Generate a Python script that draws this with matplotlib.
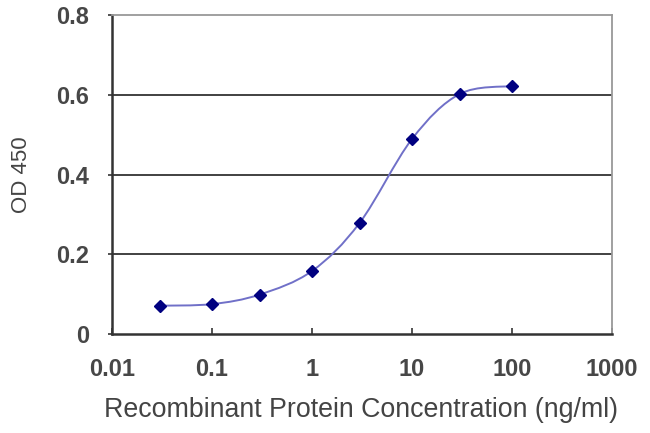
import numpy as np
import matplotlib
matplotlib.use("Agg")
import matplotlib.pyplot as plt
from matplotlib.path import Path
from matplotlib.patches import PathPatch

plt.rcParams['font.family'] = ['Liberation Sans', 'DejaVu Sans']

# data
conc = [0.03, 0.1, 0.3, 1, 3, 10, 30, 100]
od450 = [0.071, 0.075, 0.099, 0.158, 0.279, 0.489, 0.602, 0.622]
xticks = [0.01, 0.1, 1, 10, 100, 1000]
xticklabels = ['0.01', '0.1', '1', '10', '100', '1000']
yticks = [0, 0.2, 0.4, 0.6, 0.8]
yticklabels = ['0', '0.2', '0.4', '0.6', '0.8']


def smooth_path(xs, ys, t=1/6):
    # Excel-style smoothed line: cubic bezier segments, control points in log-x space
    lx = np.log10(xs)
    ys = np.asarray(ys, dtype=float)
    n = len(lx)
    verts = [(xs[0], ys[0])]
    codes = [Path.MOVETO]
    for i in range(n - 1):
        p0 = (lx[max(i - 1, 0)], ys[max(i - 1, 0)])
        p1 = (lx[i], ys[i])
        p2 = (lx[i + 1], ys[i + 1])
        p3 = (lx[min(i + 2, n - 1)], ys[min(i + 2, n - 1)])
        c1 = (p1[0] + (p2[0] - p0[0]) * t, p1[1] + (p2[1] - p0[1]) * t)
        c2 = (p2[0] - (p3[0] - p1[0]) * t, p2[1] - (p3[1] - p1[1]) * t)
        for c in (c1, c2, p2):
            verts.append((10 ** c[0], c[1]))
            codes.append(Path.CURVE4)
    return Path(verts, codes)


fig = plt.figure(figsize=(6.5, 4.33), dpi=100)
ax = fig.add_axes([0.1723, 0.2286, 0.7692, 0.7367])
ax.set_xscale('log')
ax.set_xlim(0.01, 1000)
ax.set_ylim(0, 0.8)

for yv in yticks[1:-1]:
    ax.axhline(yv, color='#333333', lw=1.3, zorder=1)

ax.add_patch(PathPatch(smooth_path(conc, od450), facecolor='none',
                       edgecolor='#7070c8', lw=1.4, zorder=2))
ax.plot(conc, od450, ls='none', marker='D', ms=6.5, color='#000080', zorder=3)

ax.set_xticks(xticks)
ax.set_xticklabels(xticklabels)
ax.set_xticks([], minor=True)
ax.set_yticks(yticks)
ax.set_yticklabels(yticklabels)

ax.tick_params(axis='x', direction='in', length=4, width=1.2, color='#333333',
               labelsize=17, labelcolor='#474747', pad=17)
ax.tick_params(axis='y', direction='out', length=3, width=1.2, color='#333333',
               labelsize=17, labelcolor='#474747', pad=13.5)
for lab in ax.get_xticklabels() + ax.get_yticklabels():
    lab.set_fontweight('bold')

ax.spines['left'].set_color('#333333')
ax.spines['left'].set_linewidth(1.8)
ax.spines['bottom'].set_color('#333333')
ax.spines['bottom'].set_linewidth(1.8)
ax.spines['top'].set_color('#999999')
ax.spines['top'].set_linewidth(1.3)
ax.spines['right'].set_color('#999999')
ax.spines['right'].set_linewidth(1.3)

ax.set_xlabel('Recombinant Protein Concentration (ng/ml)', fontsize=19.3,
              color='#444444', va='center')
ax.xaxis.set_label_coords(0.498, -0.238)
ax.set_ylabel('OD 450', fontsize=16, color='#444444', va='center')
ax.yaxis.set_label_coords(-0.18, 0.5)

fig.savefig('out.png', dpi=100, facecolor='white')
